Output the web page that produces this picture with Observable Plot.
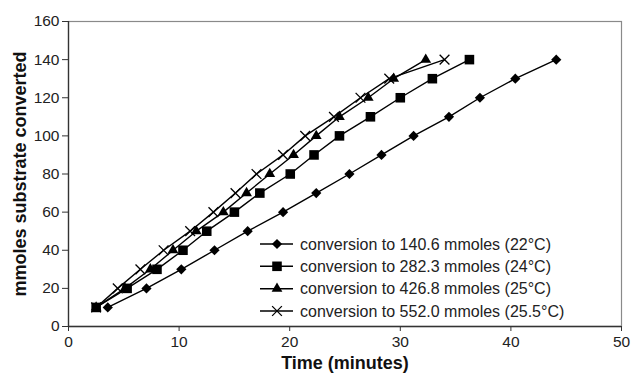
<!DOCTYPE html>
<html>
<head>
<meta charset="utf-8">
<script src="https://cdn.jsdelivr.net/npm/d3@7"></script>
<script src="https://cdn.jsdelivr.net/npm/@observablehq/plot@0.6"></script>
<style>
  html, body { margin: 0; padding: 0; background: white; }
  #chart { position: relative; width: 632px; height: 376px; }
</style>
</head>
<body>
<div id="chart"></div>
<script>
// ---- data ----
const seriesNames = [
  "conversion to 140.6 mmoles (22°C)",
  "conversion to 282.3 mmoles (24°C)",
  "conversion to 426.8 mmoles (25°C)",
  "conversion to 552.0 mmoles (25.5°C)"
];
const substrate = [10, 20, 30, 40, 50, 60, 70, 80, 90, 100, 110, 120, 130, 140];
const time140 = [3.55, 7.05, 10.2, 13.2, 16.2, 19.4, 22.4, 25.4, 28.3, 31.2, 34.4, 37.2, 40.4, 44.1];
const time282 = [2.5, 5.3, 8.0, 10.35, 12.5, 15.0, 17.3, 20.05, 22.2, 24.5, 27.3, 30.0, 32.9, 36.25];
const time426 = [2.5, 5.1, 7.4, 9.45, 11.55, 14.0, 16.1, 18.2, 20.35, 22.4, 24.5, 27.1, 29.4, 32.3];
const time552 = [2.5, 4.45, 6.5, 8.6, 11.0, 13.1, 15.1, 17.0, 19.4, 21.4, 24.0, 26.4, 29.0, 34.0];
const xTicks = [0, 10, 20, 30, 40, 50];
const yTicks = [0, 20, 40, 60, 80, 100, 120, 140, 160];

const times = [time140, time282, time426, time552];
const data = [];
seriesNames.forEach((s, i) => {
  times[i].forEach((t, j) => data.push({series: s, time: t, value: substrate[j]}));
});

// marker styles per series
const markers = [
  {type: "diamond2", d3type: d3.symbolDiamond2, r: 4.6, filled: true},
  {type: "square", d3type: d3.symbolSquare, r: 5.4, filled: true},
  {type: "triangle", d3type: d3.symbolTriangle, r: 4.0, filled: true},
  {type: "times", d3type: d3.symbolTimes, r: 4.5, filled: false}
];

const dotMarks = seriesNames.map((s, i) => {
  const m = markers[i];
  return Plot.dot(data.filter(d => d.series === s), {
    x: "time", y: "value", symbol: () => m.type, r: m.r,
    fill: m.filled ? "black" : "none",
    stroke: m.filled ? "none" : "black",
    strokeWidth: 1.3
  });
});

const chart = Plot.plot({
  width: 632,
  height: 376,
  marginLeft: 68,
  marginRight: 11,
  marginTop: 21,
  marginBottom: 50,
  style: {fontFamily: "'Liberation Sans', Arial, sans-serif", fontSize: "15.5px", color: "#222", background: "white"},
  x: {domain: [0, 50]},
  y: {domain: [0, 160]},
  symbol: {domain: ["diamond2", "square", "triangle", "times"], range: ["diamond2", "square", "triangle", "times"]},
  marks: [
    Plot.frame({stroke: "#8a8a8a", strokeWidth: 1.2}),
    Plot.axisX({ticks: xTicks, tickSize: 5, tickPadding: 4, label: null, stroke: "#333", fill: "#222"}),
    Plot.axisY({ticks: yTicks, tickSize: 6, tickPadding: 3, label: null, stroke: "#333", fill: "#222"}),
    Plot.ruleX([0], {stroke: "#333", strokeWidth: 1.3}),
    Plot.ruleY([0], {stroke: "#333", strokeWidth: 1.3}),
    Plot.line(data, {x: "time", y: "value", z: "series", stroke: "black", strokeWidth: 1.4}),
    ...dotMarks,
    Plot.text(["Time (minutes)"], {frameAnchor: "bottom", dy: 37, lineAnchor: "middle", textAnchor: "middle", fontWeight: "bold", fontSize: 18, fill: "#111"}),
    Plot.text(["mmoles substrate converted"], {frameAnchor: "left", dx: -48, rotate: -90, lineAnchor: "middle", textAnchor: "middle", fontWeight: "bold", fontSize: 18, fill: "#111"})
  ]
});

document.getElementById("chart").appendChild(chart);

// ---- legend (inside plot area, lower right) ----
const svg = d3.select(chart);
const legend = svg.append("g").attr("class", "legend").attr("text-anchor", "start");
const rowY = [244, 266.3, 288.7, 311];
seriesNames.forEach((s, i) => {
  const m = markers[i];
  const g = legend.append("g").attr("transform", `translate(0,${rowY[i]})`);
  g.append("line").attr("x1", 260).attr("x2", 293).attr("y1", 0).attr("y2", 0)
    .attr("stroke", "black").attr("stroke-width", 1.4);
  g.append("path")
    .attr("d", d3.symbol().type(m.d3type).size(Math.PI * m.r * m.r)())
    .attr("transform", "translate(277,0)")
    .attr("fill", m.filled ? "black" : "none")
    .attr("stroke", m.filled ? "none" : "black")
    .attr("stroke-width", 1.3);
  g.append("text").attr("x", 300).attr("y", 0).attr("dy", "0.35em")
    .attr("text-anchor", "start")
    .attr("font-size", 16).attr("fill", "#222")
    .attr("font-family", "'Liberation Sans', Arial, sans-serif")
    .text(s);
});
</script>
</body>
</html>
